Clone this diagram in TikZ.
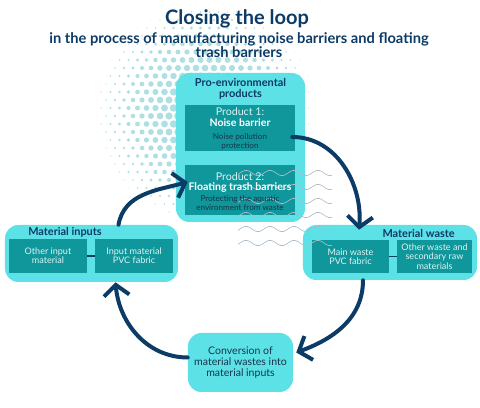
\documentclass[tikz,border=0pt]{standalone}
\usepackage{fontspec}
\setmainfont{Lato}
\usetikzlibrary{arrows.meta,fit,calc,positioning}
\definecolor{cNavy}{HTML}{0C3B66}
\definecolor{cCyan}{HTML}{5CE1E6}
\definecolor{cTeal}{HTML}{0F979B}
\definecolor{cDot}{HTML}{AFDFE3}
\definecolor{cWave}{HTML}{A9BDCB}
\definecolor{cInk}{HTML}{18344A}
\definecolor{cPale}{HTML}{DDF3F3}
\tikzset{outerbox/.style={
  fill=cCyan,
  rounded corners=10pt,
  inner sep=0pt,
  }
}
\tikzset{innerbox/.style={
  fill=cTeal,
  inner sep=0pt,
  }
}
\tikzset{looparrow/.style={
  draw=cNavy,
  line width=3pt,
  line cap=round,
  -{Straight Barb[length=8pt,width=19pt]},
  }
}
\tikzset{maintitle/.style={font=\fontsize{15}{18}\selectfont\bfseries, text=cNavy, inner sep=0pt}}
\tikzset{subtitle/.style={font=\fontsize{11}{10.8}\selectfont\bfseries, text=cNavy, align=center, inner sep=0pt}}
\tikzset{boxtitle/.style={font=\fontsize{8.2}{8.4}\selectfont\bfseries, text=cNavy, align=center, inner sep=0pt}}
\tikzset{prodlabel/.style={font=\fontsize{8}{9}\selectfont, text=cPale, inner sep=0pt}}
\tikzset{prodname/.style={font=\fontsize{7.9}{9}\selectfont\bfseries, text=white, inner sep=0pt}}
\tikzset{proddesc/.style={font=\fontsize{6.1}{6.6}\selectfont, text=cInk, align=center, inner sep=0pt}}
\tikzset{smalltext/.style={font=\fontsize{6.8}{7}\selectfont, text=cPale, align=center, inner sep=0pt}}
\tikzset{convtext/.style={font=\fontsize{7.9}{8.3}\selectfont, text=cInk, align=center, inner sep=0pt}}

\begin{document}
\begin{tikzpicture}[x=0.75pt,y=0.75pt]
  \useasboundingbox (0,0) rectangle (480,408);

  % halftone dots
  \foreach \i in {0,...,26}{
    \foreach \j in {0,...,32}{
      \pgfmathsetmacro{\dx}{88+9*\i+4.5*mod(\j,2)}
      \pgfmathsetmacro{\dy}{404-8*\j}
      \pgfmathsetmacro{\dr}{max(0,4.3*(1-(veclen(\dx-205,\dy-295)/115)^1.6))}
      \fill[cDot] (\dx,\dy) circle[radius=\dr];
    }
  }

  % boxes
  \node[outerbox, fit={(176,186)(305,335)}] (prod) {};
  \node[innerbox, fit={(185,257)(295,303)}] (p1) {};
  \node[innerbox, fit={(185,193)(295,243)}] (p2) {};

  \node[outerbox, fit={(5,126)(178,183)}] (inputs) {};
  \node[innerbox, fit={(9,135)(87,169)}] (in1) {};
  \node[innerbox, fit={(95,135)(173,169)}] (in2) {};

  \node[outerbox, fit={(303,128)(477,183)}] (waste) {};
  \node[innerbox, fit={(312,135)(389,168)}] (w1) {};
  \node[innerbox, fit={(397,135)(472,168)}] (w2) {};

  \node[outerbox, fit={(188,16)(293,75)}] (conv) {};

  % waves
  \foreach \w in {235,221,207,193,179,165}{
    \draw[cWave, line width=0.5pt] plot[domain=238:332, samples=60, smooth] (\x, {\w+2.6*sin(15*\x)});
  }

  % texts
  \node[maintitle] (title) at (237,389) {Closing the loop};
  \node[subtitle] (sub) at (239,363) {in the process of manufacturing noise barriers and floating\\trash barriers};

  \node[boxtitle] (prodtitle) at (240.5,319.5) {Pro-environmental\\products};
  \node[prodlabel] (p1a) at (240,296) {Product 1:};
  \node[prodname] (p1b) at (240,285) {Noise barrier};
  \node[proddesc] (p1c) at (240,266.5) {Noise pollution\\protection};
  \node[prodlabel] (p2a) at (240,231) {Product 2:};
  \node[prodname] (p2b) at (240,220) {Floating trash barriers};
  \node[proddesc] (p2c) at (240,205) {Protecting the aquatic\\environment from waste};

  \node[boxtitle, anchor=west] (intitle) at (28,176) {Material inputs};
  \node[smalltext] at (in1) {Other input\\material};
  \node[smalltext] at (in2) {Input material\\PVC fabric};
  \draw[cNavy, line width=1.2pt] (in1.east) -- (in2.west);

  \node[boxtitle, anchor=east] (wtitle) at (455,175) {Material waste};
  \node[smalltext] at (w1) {Main waste\\PVC fabric};
  \node[smalltext] at (w2) {Other waste and\\secondary raw\\materials};
  \draw[cNavy, line width=1.2pt] (w1.east) -- (w2.west);

  \node[convtext] at (conv) {Conversion of\\material wastes into\\material inputs};

  % loop arrows
  \draw[looparrow] ($(p1.east)+(-3,-9)$) to[out=0,in=85] ($(waste.north)+(-31,-5)$);
  \draw[looparrow] ($(waste.south)+(-27,0)$) to[out=-90,in=20] ($(conv.east)+(3,10)$);
  \draw[looparrow] ($(conv.west)+(0,5)$) to[out=180,in=-85] ($(inputs.south)+(24,0)$);
  \draw[looparrow] ($(inputs.north)+(27,0)$) to[out=80,in=195] ($(p2.west)+(3,8)$);
\end{tikzpicture}
\end{document}
